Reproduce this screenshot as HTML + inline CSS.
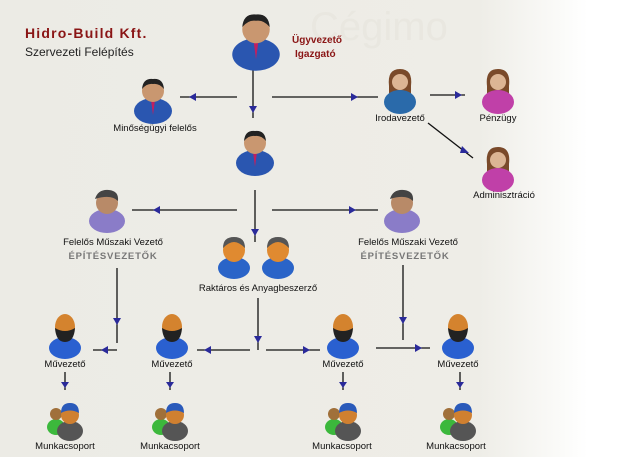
<!DOCTYPE html>
<html><head><meta charset="utf-8"><style>
body{margin:0;width:639px;height:457px;overflow:hidden;background:linear-gradient(90deg,#ecebe5 0%,#eeede7 75%,#fbfbf9 88%,#fff 92%);font-family:"Liberation Sans",sans-serif}
svg{position:absolute;left:0;top:0}
text{font-family:"Liberation Sans",sans-serif}
</style></head><body>
<svg width="639" height="457" viewBox="0 0 639 457">
<defs>
<g id="man"><ellipse cx="0" cy="26" rx="19" ry="13" fill="#2a56b0"/><path d="M-2,15L0,30L2,15z" fill="#c02060"/><circle cx="0" cy="6" r="11" fill="#c99770"/><path d="M-11,4Q-10,-7 0,-6Q10,-7 11,4Q6,-2 0,-1Q-6,-2 -11,4z" fill="#222"/></g>
<g id="woman"><path d="M-11,10Q-13,-7 0,-7Q13,-7 11,10L11,20L-11,20z" fill="#7a4a2a"/><ellipse cx="0" cy="26" rx="16" ry="12" fill="#c040a8"/><circle cx="0" cy="6" r="8" fill="#dcb594"/></g>
<g id="womanb"><path d="M-11,10Q-13,-7 0,-7Q13,-7 11,10L11,20L-11,20z" fill="#7a4a2a"/><ellipse cx="0" cy="26" rx="16" ry="12" fill="#2a6aaa"/><circle cx="0" cy="6" r="8" fill="#dcb594"/></g>
<g id="fmv"><ellipse cx="0" cy="26" rx="18" ry="12" fill="#8a7cc8"/><circle cx="0" cy="8" r="11" fill="#b88a68"/><path d="M-12,4Q-9,-6 2,-5Q12,-4 11,6Q4,-1 -12,4z" fill="#444"/></g>
<g id="rak"><ellipse cx="0" cy="28" rx="16" ry="11" fill="#2a64c8"/><ellipse cx="0" cy="10" rx="11" ry="12" fill="#e08a30"/><path d="M-11,8Q-11,-3 0,-3Q11,-3 11,8Q5,2 0,2Q-5,2 -11,8z" fill="#555"/></g>
<g id="muv"><ellipse cx="0" cy="30" rx="16" ry="11" fill="#2a60d0"/><ellipse cx="0" cy="9" rx="10" ry="13" fill="#d4832e"/><path d="M-10,10Q-9,24 0,24Q9,24 10,10Q0,16 -10,10z" fill="#222"/></g>
<g id="grp"><ellipse cx="-9" cy="22" rx="9" ry="8" fill="#3cb83c"/><circle cx="-9" cy="9" r="6" fill="#a0703a"/><ellipse cx="5" cy="26" rx="13" ry="10" fill="#555"/><circle cx="5" cy="10" r="9" fill="#d08030"/><path d="M-4,8Q-4,-2 5,-2Q14,-2 14,8Q5,3 -4,8z" fill="#2a5aba"/></g>
</defs>
<text x="25" y="38" font-size="14" font-weight="bold" fill="#8a1515" letter-spacing="1.2">Hidro-Build  Kft.</text>
<text x="25" y="56" font-size="12" fill="#222">Szervezeti Felépítés</text>
<text x="310" y="40" font-size="40" fill="#e9e7e0" font-family="Liberation Serif">Cégimo</text>
<g stroke="#111" stroke-width="1.3" fill="none">
<line x1="253" y1="68" x2="253" y2="118"/><line x1="237" y1="97" x2="180" y2="97"/><line x1="272" y1="97" x2="378" y2="97"/>
<line x1="430" y1="95" x2="465" y2="95"/><line x1="428" y1="123" x2="473" y2="158"/>
<line x1="255" y1="190" x2="255" y2="242"/><line x1="237" y1="210" x2="132" y2="210"/><line x1="272" y1="210" x2="378" y2="210"/>
<line x1="117" y1="268" x2="117" y2="343"/><line x1="403" y1="265" x2="403" y2="340"/>
<line x1="117" y1="350" x2="93" y2="350"/><line x1="258" y1="298" x2="258" y2="350"/>
<line x1="250" y1="350" x2="197" y2="350"/><line x1="266" y1="350" x2="320" y2="350"/><line x1="376" y1="348" x2="430" y2="348"/>
<line x1="65" y1="372" x2="65" y2="390"/><line x1="170" y1="372" x2="170" y2="390"/><line x1="343" y1="372" x2="343" y2="390"/><line x1="460" y1="372" x2="460" y2="390"/>
</g>
<g fill="#2a2a9a">
<path d="M249,106h8l-4,7z"/><path d="M196,93v8l-7,-4z"/><path d="M351,93v8l7,-4z"/>
<path d="M455,91v8l7,-4z"/><path d="M462,146l7,7l-9,0z"/>
<path d="M251,229h8l-4,7z"/><path d="M160,206v8l-7,-4z"/><path d="M349,206v8l7,-4z"/>
<path d="M113,318h8l-4,7z"/><path d="M399,317h8l-4,7z"/>
<path d="M108,346v8l-7,-4z"/><path d="M254,336h8l-4,7z"/><path d="M211,346v8l-7,-4z"/><path d="M303,346v8l7,-4z"/><path d="M415,344v8l7,-4z"/>
<path d="M61,382h8l-4,6z"/><path d="M166,382h8l-4,6z"/><path d="M339,382h8l-4,6z"/><path d="M456,382h8l-4,6z"/>
</g>
<use href="#man" transform="translate(256,22) scale(1.25)"/>
<use href="#man" x="153" y="85"/><use href="#man" x="255" y="137"/>
<use href="#womanb" x="400" y="76"/><use href="#woman" x="498" y="76"/><use href="#woman" x="498" y="154"/>
<use href="#fmv" x="107" y="195"/><use href="#fmv" x="402" y="195"/>
<use href="#rak" x="234" y="240"/><use href="#rak" x="278" y="240"/>
<use href="#muv" x="65" y="318"/><use href="#muv" x="172" y="318"/><use href="#muv" x="343" y="318"/><use href="#muv" x="458" y="318"/>
<use href="#grp" x="65" y="405"/><use href="#grp" x="170" y="405"/><use href="#grp" x="343" y="405"/><use href="#grp" x="458" y="405"/>
<g font-size="10" font-weight="bold" fill="#8a1515"><text x="292" y="43">Ügyvezető</text><text x="295" y="57">Igazgató</text></g>
<g font-size="9.5" fill="#111" text-anchor="middle">
<text x="155" y="131">Minőségügyi felelős</text><text x="400" y="121">Irodavezető</text><text x="498" y="121">Pénzügy</text><text x="504" y="198">Adminisztráció</text>
<text x="113" y="245">Felelős Műszaki Vezető</text><text x="408" y="245">Felelős Műszaki Vezető</text>
<text x="258" y="291">Raktáros és Anyagbeszerző</text>
<text x="65" y="367">Művezető</text><text x="172" y="367">Művezető</text><text x="343" y="367">Művezető</text><text x="458" y="367">Művezető</text>
<text x="65" y="449">Munkacsoport</text><text x="170" y="449">Munkacsoport</text><text x="342" y="449">Munkacsoport</text><text x="456" y="449">Munkacsoport</text>
</g>
<g font-size="9.5" font-weight="bold" fill="#777" text-anchor="middle" letter-spacing="0.8"><text x="113" y="259">ÉPÍTÉSVEZETŐK</text><text x="405" y="259">ÉPÍTÉSVEZETŐK</text></g>
</svg>
</body></html>
